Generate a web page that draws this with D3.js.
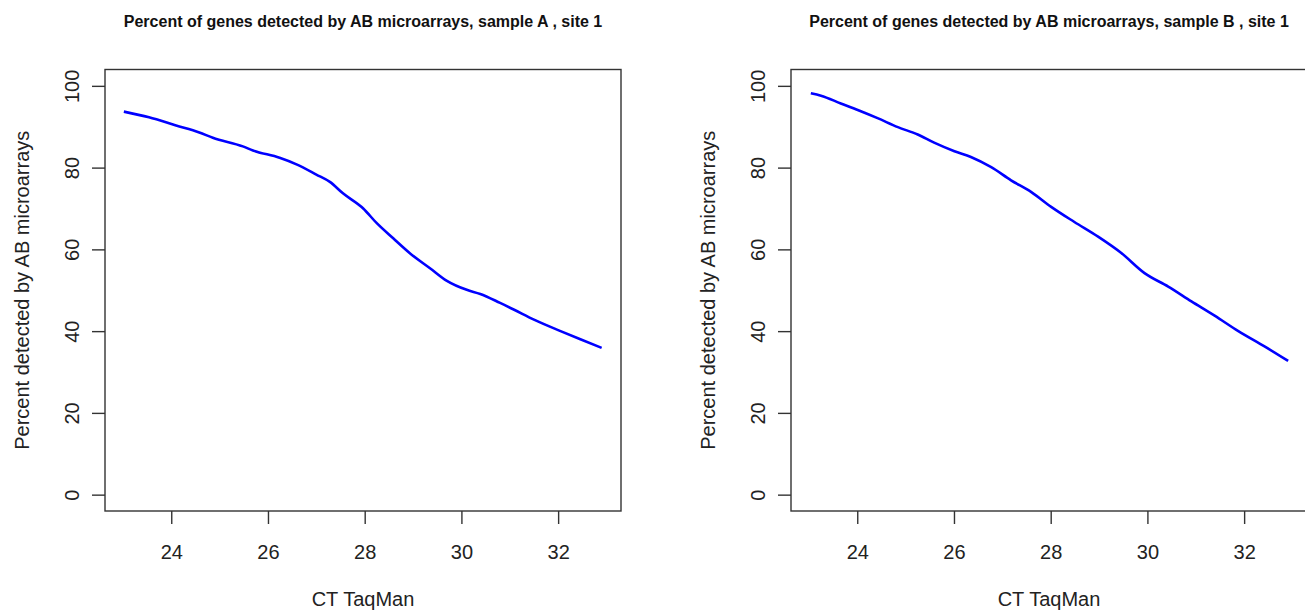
<!DOCTYPE html>
<html>
<head>
<meta charset="utf-8">
<script src="https://cdn.jsdelivr.net/npm/d3@7"></script>
<style>
  html, body { margin: 0; padding: 0; background: #fff; }
  svg { display: block; }
  text { font-family: "Liberation Sans", Arial, sans-serif; fill: #222; }
</style>
</head>
<body>
<svg id="chart" width="1305" height="613"></svg>
<script>
// ---- data ----
const titles = [
  "Percent of genes detected by AB microarrays, sample A , site 1",
  "Percent of genes detected by AB microarrays, sample B , site 1"
];
const xLabel = "CT TaqMan";
const yLabel = "Percent detected by AB microarrays";
const xTicks = [24, 26, 28, 30, 32];
const yTicks = [0, 20, 40, 60, 80, 100];
const xDomain = [22.63, 33.3];
const yDomain = [-4, 104];

const ctA  = [23.02, 23.54, 24.10, 24.58, 24.86, 25.48, 25.69, 26.24, 26.59, 27.00, 27.28, 27.55, 27.97, 28.25, 28.59, 28.94, 29.35, 29.70, 30.11, 30.39, 30.80, 31.08, 31.50, 32.05, 32.46, 32.90];
const pctA = [93.7, 92.3, 90.3, 88.6, 87.3, 85.2, 84.2, 82.4, 80.8, 78.3, 76.5, 73.7, 70.0, 66.4, 62.7, 59.0, 55.4, 52.3, 50.1, 49.1, 46.9, 45.3, 42.8, 40.0, 38.0, 35.9];

const ctB  = [23.04, 23.25, 23.66, 24.01, 24.42, 24.84, 25.25, 25.59, 26.01, 26.35, 26.77, 27.18, 27.60, 28.01, 28.49, 28.98, 29.46, 29.94, 30.43, 30.91, 31.39, 31.88, 32.43, 32.91];
const pctB = [98.2, 97.6, 95.7, 94.1, 92.1, 89.9, 88.1, 86.1, 84.0, 82.6, 80.1, 76.9, 74.0, 70.4, 66.7, 63.1, 59.1, 54.2, 50.9, 47.3, 43.8, 40.0, 36.2, 32.7];

const series = [
  { title: titles[0], x: ctA, y: pctA },
  { title: titles[1], x: ctB, y: pctB }
];

// ---- layout ----
const svg = d3.select("#chart");
const panelOffsets = [0, 686];
const box = { left: 105, right: 621, top: 69.5, bottom: 511 };

series.forEach((s, i) => {
  const g = svg.append("g").attr("transform", `translate(${panelOffsets[i]},0)`);
  const x = d3.scaleLinear().domain(xDomain).range([box.left, box.right]);
  const y = d3.scaleLinear().domain(yDomain).range([box.bottom, box.top]);

  // box
  g.append("rect")
    .attr("x", box.left).attr("y", box.top)
    .attr("width", box.right - box.left).attr("height", box.bottom - box.top)
    .attr("fill", "none").attr("stroke", "#333").attr("stroke-width", 1.4);

  // x axis
  const xa = g.append("g").attr("transform", `translate(0,${box.bottom})`)
    .call(d3.axisBottom(x).tickValues(xTicks).tickSize(13).tickPadding(33).tickFormat(d3.format("d")));
  xa.select(".domain").remove();
  xa.selectAll("line").attr("stroke", "#333").attr("stroke-width", 1.4);
  xa.selectAll("text").attr("font-size", 20).attr("dy", null).attr("dominant-baseline", "alphabetic")
    .attr("y", 48).attr("fill", "#222");

  // y axis
  const ya = g.append("g").attr("transform", `translate(${box.left},0)`)
    .call(d3.axisLeft(y).tickValues(yTicks).tickSize(13).tickFormat(d3.format("d")));
  ya.select(".domain").remove();
  ya.selectAll("line").attr("stroke", "#333").attr("stroke-width", 1.4);
  ya.selectAll("text")
    .attr("font-size", 20).attr("x", null).attr("dy", null)
    .attr("text-anchor", "middle").attr("fill", "#222")
    .attr("transform", "translate(-26,0) rotate(-90)")
    .attr("y", 0);

  // axis titles
  g.append("text")
    .attr("x", (box.left + box.right) / 2).attr("y", 606)
    .attr("text-anchor", "middle").attr("font-size", 20)
    .text(xLabel);
  g.append("text")
    .attr("transform", `translate(${box.left - 76},${(box.top + box.bottom) / 2}) rotate(-90)`)
    .attr("text-anchor", "middle").attr("font-size", 20)
    .text(yLabel);

  // main title
  g.append("text")
    .attr("x", (box.left + box.right) / 2).attr("y", 27)
    .attr("text-anchor", "middle").attr("font-size", 16).attr("font-weight", "bold")
    .style("fill", "#111")
    .text(s.title);

  // curve
  const pts = s.x.map((v, k) => [v, s.y[k]]);
  g.append("path")
    .datum(pts)
    .attr("fill", "none").attr("stroke", "#0000ff").attr("stroke-width", 2.6)
    .attr("stroke-linejoin", "round")
    .attr("d", d3.line().x(d => x(d[0])).y(d => y(d[1])).curve(d3.curveMonotoneX));
});
</script>
</body>
</html>
